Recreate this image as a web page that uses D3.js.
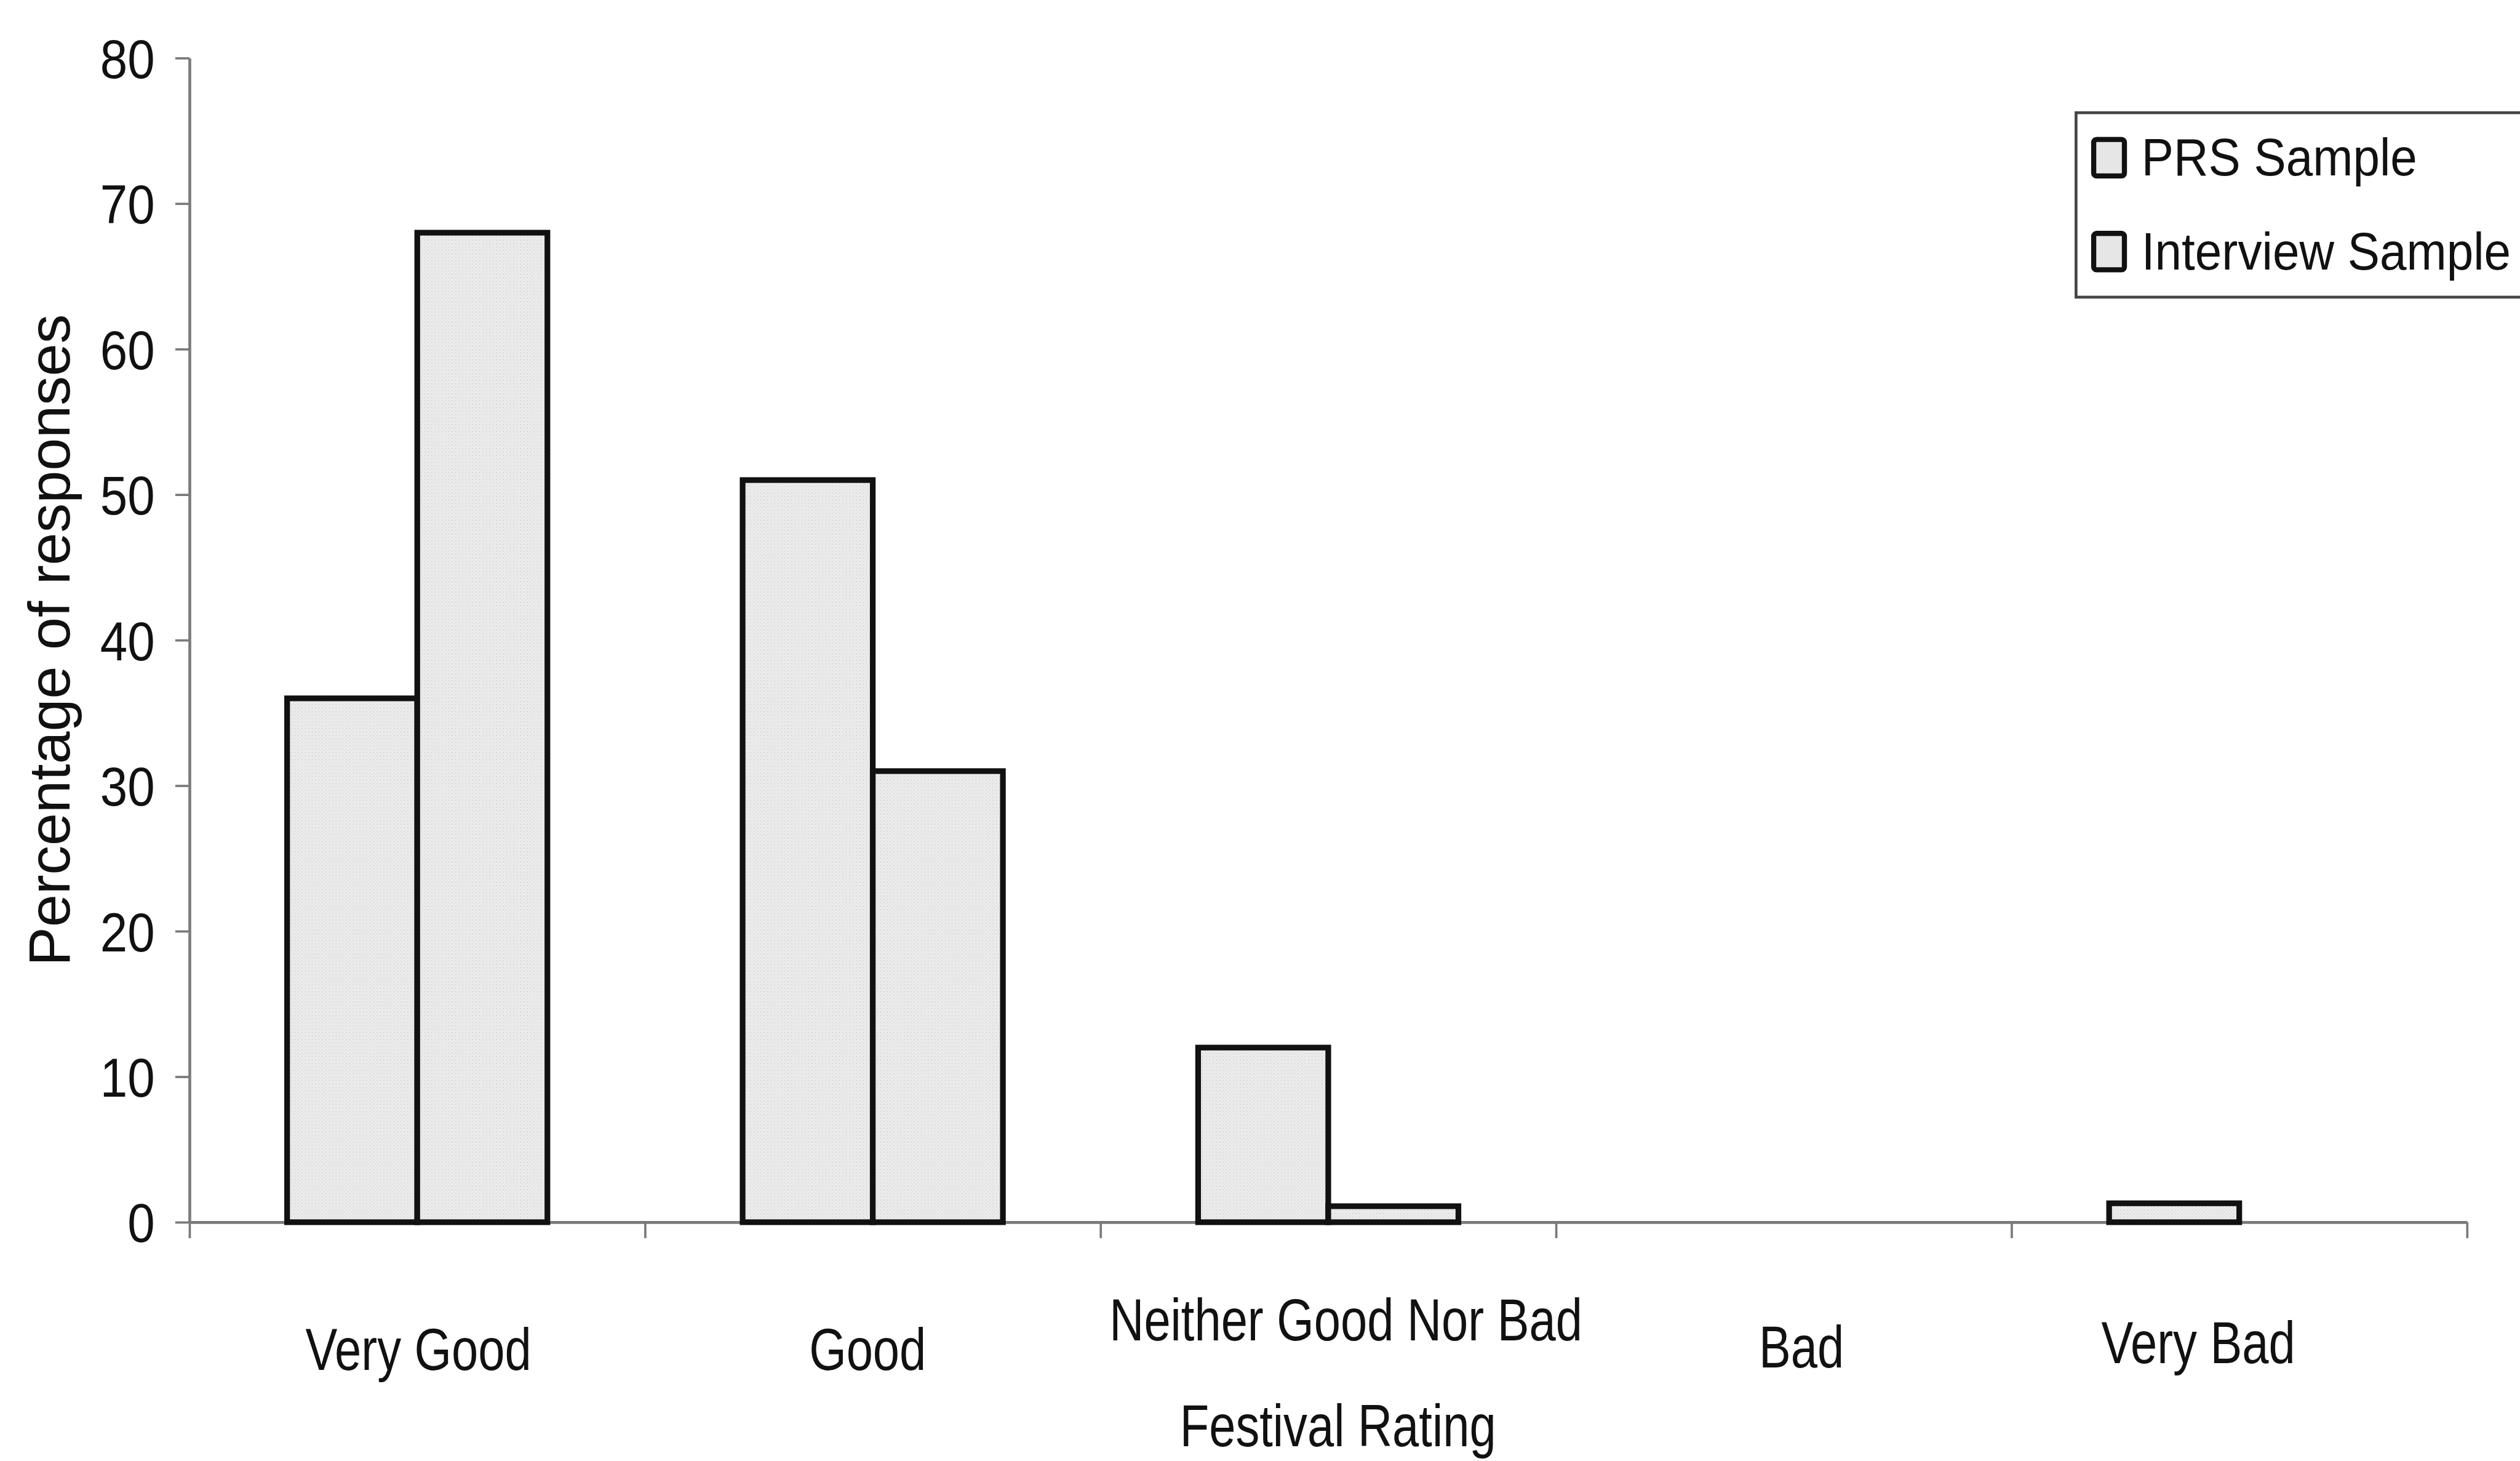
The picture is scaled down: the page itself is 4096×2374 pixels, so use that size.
<!DOCTYPE html>
<html><head><meta charset="utf-8">
<script src="https://cdn.jsdelivr.net/npm/d3@7"></script>
<style>html,body{margin:0;padding:0;background:#fff;overflow:hidden}</style>
</head><body><svg id="chart"></svg>
<script>
// ---- data ----
const categories = ["Very Good", "Good", "Neither Good Nor Bad", "Bad", "Very Bad"];
const seriesNames = ["PRS Sample", "Interview Sample"];
const prsSample = [36, 51, 12, 0, 1.3];
const interviewSample = [68, 31, 1.1, 0, 0];
const yTickValues = [0, 10, 20, 30, 40, 50, 60, 70, 80];
const xTitle = "Festival Rating";
const yTitle = "Percentage of responses";

// ---- layout (reference pixel units, scaled by SCALE) ----
const SCALE = 0.925;
const plot = {left: 333, right: 4335, top: 102, bottom: 2147};
const labelNudge = [[2, 0], [-9, 0], [31, -52], [31, -5], [-72, -12]];
const FONT = "'Liberation Sans', Arial, Helvetica, sans-serif";
const barFill = "#e6e6e6";

const svg = d3.select("#chart").attr("width", 4096).attr("height", 2374);
svg.append("rect").attr("width", 4096).attr("height", 2374).attr("fill", "#fff");

const defs = svg.append("defs");
const pat = defs.append("pattern").attr("id", "stip").attr("patternUnits", "userSpaceOnUse")
  .attr("width", 6).attr("height", 6);
pat.append("rect").attr("width", 6).attr("height", 6).attr("fill", "#ececec");
pat.append("rect").attr("x", 1).attr("y", 1).attr("width", 2).attr("height", 2).attr("fill", "#d4d4d4");
pat.append("rect").attr("x", 4).attr("y", 4).attr("width", 1.5).attr("height", 1.5).attr("fill", "#dadada");

const g = svg.append("g").attr("transform", `scale(${SCALE})`);

const x = d3.scaleBand().domain(categories).range([plot.left, plot.right]).padding(0);
const xi = d3.scaleLinear().domain([0, categories.length]).range([plot.left, plot.right]);
const y = d3.scaleLinear().domain([0, 80]).range([plot.bottom, plot.top]);
const groupW = x.bandwidth() * 2 / 3.5;
const xs = d3.scaleBand().domain(seriesNames).range([0, groupW]);

// ---- axes ----
const yAxis = g.append("g").attr("transform", `translate(${plot.left},0)`)
  .call(d3.axisLeft(y).tickValues(yTickValues).tickSize(25).tickSizeOuter(0).tickPadding(0));
yAxis.select(".domain").attr("stroke", "#7a7a7a").attr("stroke-width", 5);
yAxis.selectAll(".tick line").attr("stroke", "#7a7a7a").attr("stroke-width", 4);
yAxis.selectAll(".tick text")
  .attr("x", null).attr("dy", "0.36em")
  .attr("transform", "translate(-61,0) scale(0.9,1)")
  .attr("text-anchor", "end")
  .attr("font-family", FONT).attr("font-size", 96).attr("fill", "#111");

const xAxis = g.append("g").attr("transform", `translate(0,${plot.bottom})`)
  .call(d3.axisBottom(xi).tickValues(d3.range(categories.length + 1)).tickSize(28).tickSizeOuter(0).tickFormat(""));
xAxis.select(".domain").attr("stroke", "#7a7a7a").attr("stroke-width", 5);
xAxis.selectAll(".tick line").attr("stroke", "#7a7a7a").attr("stroke-width", 4);

// ---- bars ----
const rows = categories.map((c, i) => ({cat: c, i, vals: [prsSample[i], interviewSample[i]]}));
const groups = g.append("g").selectAll("g").data(rows).join("g")
  .attr("transform", d => `translate(${x(d.cat) + (x.bandwidth() - groupW) / 2},0)`);
groups.selectAll("rect").data(d => d.vals.map((v, k) => ({v, s: seriesNames[k]})).filter(e => e.v > 0))
  .join("rect")
  .attr("x", e => xs(e.s))
  .attr("y", e => y(e.v))
  .attr("width", xs.bandwidth())
  .attr("height", e => y(0) - y(e.v))
  .attr("fill", "url(#stip)")
  .attr("stroke", "#111").attr("stroke-width", 10).attr("stroke-linejoin", "miter");

// ---- category labels ----
g.append("g").selectAll("text").data(categories).join("text")
  .attr("transform", (c, i) => `translate(${x(c) + x.bandwidth() / 2 + labelNudge[i][0]},${2407 + labelNudge[i][1]}) scale(0.8,1)`)
  .attr("text-anchor", "middle")
  .attr("font-family", FONT).attr("font-size", 105).attr("fill", "#111")
  .text(c => c);

// ---- axis titles ----
g.append("text")
  .attr("transform", `translate(${(plot.left + plot.right) / 2 + 17},2540) scale(0.8,1)`)
  .attr("text-anchor", "middle").attr("font-family", FONT).attr("font-size", 105).attr("fill", "#111")
  .text(xTitle);
g.append("text")
  .attr("transform", `translate(122,${(plot.top + plot.bottom) / 2}) rotate(-90)`)
  .attr("text-anchor", "middle").attr("font-family", FONT).attr("font-size", 103).attr("fill", "#111")
  .text(yTitle);

// ---- legend ----
const leg = g.append("g");
leg.append("rect").attr("x", 3648).attr("y", 198).attr("width", 900).attr("height", 324)
  .attr("fill", "#fff").attr("stroke", "#444").attr("stroke-width", 5);
const li = leg.selectAll("g.item").data(seriesNames).join("g").attr("class", "item")
  .attr("transform", (d, i) => `translate(0,${i * 165})`);
li.append("rect").attr("x", 3679).attr("y", 245).attr("width", 54).attr("height", 64).attr("rx", 5)
  .attr("fill", barFill).attr("stroke", "#111").attr("stroke-width", 9);
li.append("text").attr("transform", "translate(3763,308) scale(0.92,1)")
  .attr("font-family", FONT).attr("font-size", 92).attr("fill", "#111")
  .text(d => d);
</script></body></html>
